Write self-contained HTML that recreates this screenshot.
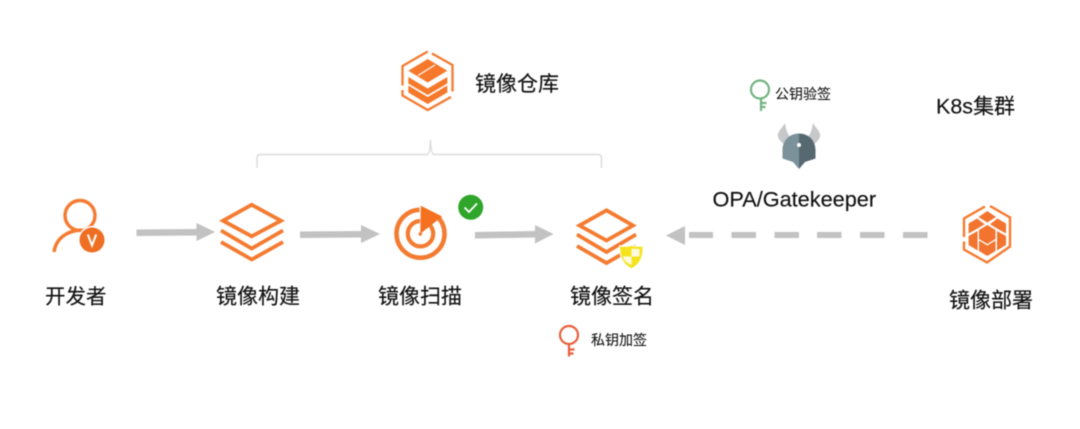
<!DOCTYPE html>
<html><head><meta charset="utf-8"><style>
html,body{margin:0;padding:0;background:#fff;width:1080px;height:429px;overflow:hidden}
svg{display:block;filter:blur(.4px)}
text{font-family:"Liberation Sans","Noto Sans CJK SC",sans-serif;fill:#111;stroke:#111;stroke-width:.15px}
</style></head><body>
<svg width="1080" height="429" viewBox="0 0 1080 429" xmlns="http://www.w3.org/2000/svg">
<rect width="1080" height="429" fill="#fff"/>
<!-- repo hex -->
<path d="M432 53.500L452.500 65V91.500M451 97L427.700 110L402.500 95.500V90M402.500 85.500V66L427.700 51.500" fill="none" stroke="#f47b30" stroke-width="2.300"/>
<polygon points="408.300,70.700 427.700,59 447.300,70.700 427.700,82.500" fill="#f6782a"/>
<path d="M435 65L418 75.500" fill="none" stroke="#fff" stroke-width="1.200"/>
<polygon points="408.300,77 427.700,88.500 447.300,77 447.300,83.500 427.700,95 408.300,83.500" fill="#f6782a"/>
<polygon points="408.300,85.500 427.700,97 447.300,85.500 447.300,92.500 427.700,104 408.300,92.500" fill="#f6782a"/>
<text x="475" y="91" font-size="21">镜像仓库</text>
<!-- bracket -->
<path d="M257 168V158Q257 154.500 260 154.500H427Q430 154.500 430.500 140Q431 154.500 434 154.500H598Q601.500 154.500 601.500 158V168" fill="none" stroke="#dcdcdc" stroke-width="1.500"/>
<!-- person -->
<circle cx="80" cy="215.500" r="15" fill="none" stroke="#f47b30" stroke-width="3.400"/>
<path d="M54 252C56 238 67 231 81 230" fill="none" stroke="#f47b30" stroke-width="3.400"/>
<circle cx="92" cy="240" r="14" fill="#fff"/>
<circle cx="92" cy="240" r="12.500" fill="#ee6f22"/>
<path d="M87.800 234.500L92 245.500L96.200 234.500" fill="none" stroke="#fff" stroke-width="2"/>
<text x="45" y="303.500" font-size="20.500">开发者</text>
<!-- arrows -->
<g fill="#c2c2c2">
<polygon points="136.500,229.500 196.500,229 196.500,223 215,232 196.500,241 196.500,235.500 136.500,236"/>
<polygon points="300,231.500 361,231 361,225 380,234 361,243 361,237.500 300,238"/>
<polygon points="475,232 535,231 535,225 553.500,234 535,243.500 535,237.500 475,238.500"/>
<polygon points="666,235.500 685,226 685,245"/>
<rect x="689" y="232" width="24" height="6"/><rect x="731.500" y="232" width="24.500" height="6"/><rect x="774.500" y="232" width="24.500" height="6"/><rect x="817" y="232" width="24.500" height="6"/><rect x="860" y="232" width="24.500" height="6"/><rect x="903" y="232" width="24.500" height="6"/>
</g>
<!-- build stack -->
<g fill="none" stroke="#f47b30" stroke-width="3.800">
<polygon points="251.700,204.800 281,220.700 251.700,236.300 223,220.700"/>
<path d="M221 230.500L251.700 248.500L283 230.500"/><path d="M221 242L251.700 259.500L283 242"/>
</g>
<text x="216" y="303.500" font-size="21">镜像构建</text>
<!-- scan -->
<g fill="none" stroke="#f47b30">
<circle cx="420.500" cy="233.700" r="24" stroke-width="4.500"/>
<circle cx="420.500" cy="233.700" r="12.700" stroke-width="4.200"/>
</g>
<polygon points="420.500,233.700 419.300,204 444,214.500" fill="#fff"/>
<polygon points="420.800,205.800 442.200,216.500 420.300,233.700" fill="#f5701f"/>
<circle cx="420.300" cy="234" r="1.800" fill="#f47b30"/>
<circle cx="470.700" cy="207.300" r="12.500" fill="#2fa52a"/>
<path d="M464.500 207.500L469 212L477 203.500" fill="none" stroke="#fff" stroke-width="1.800"/>
<text x="378" y="303.500" font-size="21">镜像扫描</text>
<!-- sign stack -->
<g fill="none" stroke="#f47b30" stroke-width="3.800">
<polygon points="606.500,210.300 633,225.500 606.500,240.500 579.500,225.500"/>
<path d="M577 234.500L606.500 252L636 234.500"/><path d="M577 246L606.500 263L636 246"/>
</g>
<path d="M631.500 244C635 246 639 246 643.500 245C644 256 641 265 631.500 270C622 265 618.500 256 619 245C623.500 246 628 246 631.500 244Z" fill="#fff"/>
<path d="M631.500 245.700C635 247 638.500 247 642.500 246.500C643 256 640 264 631.500 268.300C623 264 620 256 620 246.500C624 247 628 247 631.500 245.700Z" fill="#f5e320"/>
<path d="M631.500 248.500C634 249 637 249 639.500 249L639.400 256.500H631.500ZM623 256.500H631.500V265C626.500 262.500 623.500 260 623 256.500Z" fill="#fffbe0"/>
<text x="570" y="303.500" font-size="21">镜像签名</text>
<!-- private key -->
<g fill="none" stroke="#e8603c" stroke-width="2.200">
<circle cx="569" cy="335" r="9"/><path d="M569 344V356.500M569 349.500H574.500M569 353.500H573.500"/>
</g>
<text x="591" y="345" font-size="14" style="stroke-width:.1px">私钥加签</text>
<!-- public key -->
<g fill="none" stroke="#74b383" stroke-width="2.200">
<circle cx="760" cy="89.500" r="9"/><path d="M761 98.500V111M761 103H766.500M761 107H765.500"/>
</g>
<text x="775" y="99" font-size="14" style="stroke-width:.1px">公钥验签</text>
<text x="936" y="113.500" font-size="21"><tspan font-size="21.500">K8s</tspan>集群</text>
<!-- OPA -->
<path d="M785 123C786 129 787 133 790 137L785 145C781 142 777 138 778 134C779 130 783 127 785 123Z" fill="#c6c8ca"/>
<path d="M813 123C812 129 811 133 808 137L813 145C817 142 821 138 820 134C819 130 815 127 813 123Z" fill="#c6c8ca"/>
<path d="M799 133.500C789 133.500 782.500 141 782.500 150V158.500L793 162L799 169Z" fill="#7b929b"/>
<path d="M799 133.500C809 133.500 815.500 141 815.500 150V158.500L805 162L799 169Z" fill="#566970"/>
<circle cx="799" cy="145" r="2" fill="#fff"/>
<text x="712.500" y="206.500" font-size="21.700">OPA/Gatekeeper</text>
<!-- deploy hex -->
<path d="M990 206L1010 217.500V246.500L987 262.500L964 249.500V241.500M964 237V218.500L985 206.500" fill="none" stroke="#f47b30" stroke-width="2.400"/>
<g fill="#f2742f">
<polygon points="987.300,211 996,217 987.300,222.500 978.500,217"/>
<polygon points="997.500,218.500 1006,223.500 1006,233.500 997,228.500 990,224.200"/>
<polygon points="977.100,218.500 968.600,223.500 968.600,233.500 977.600,228.500 984.600,224.200"/>
<polygon points="987.300,225 995.500,230 995.500,239 987.300,244 979,239 979,230"/>
<polygon points="997,231 1006,236 1006,245 997,250.500"/>
<polygon points="977.600,231 968.600,236 968.600,245 977.600,250.500"/>
<polygon points="987.300,245.500 995.500,240.500 995.500,251 987.300,256 979,251 979,240.500"/>
</g>
<text x="949" y="307.500" font-size="21">镜像部署</text>
</svg>
</body></html>
